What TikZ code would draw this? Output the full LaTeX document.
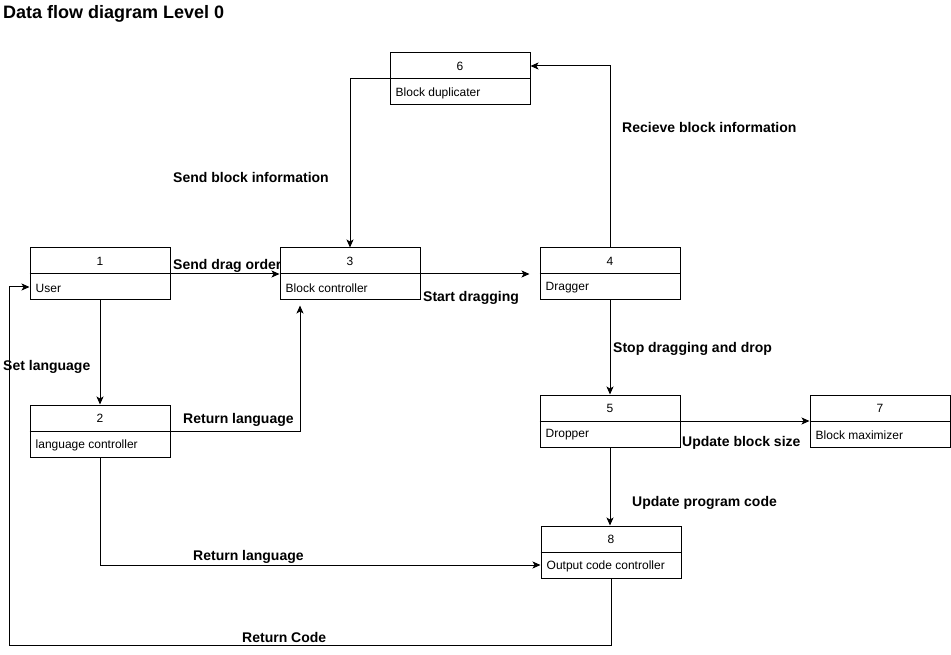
\documentclass[tikz,border=0pt]{standalone}
\usepackage{fontspec}
\setmainfont{Liberation Sans}
\usetikzlibrary{arrows.meta}
\usetikzlibrary{calc}
\usetikzlibrary{positioning}
\tikzstyle{block} = [draw, rectangle, line width=1pt, inner sep=0pt,
    minimum height=52pt, minimum width=140pt]
\tikzstyle{num} = [inner sep=0pt, minimum height=26pt,
    font=\fontsize{12}{14}\selectfont]
\tikzstyle{txt} = [inner sep=0pt, anchor=west,
    font=\fontsize{12}{14}\selectfont]
\tikzstyle{lbl} = [inner sep=0pt, anchor=west,
    font=\fontsize{14}{16}\selectfont\bfseries]
\tikzstyle{flow} = [->, line width=1pt]

\begin{document}
\begin{tikzpicture}[x=1pt, y=-1pt, >={Stealth[length=8pt,width=7pt,inset=2pt]}]
    \useasboundingbox (0,0) rectangle (951,655);
    \node [lbl, font=\fontsize{18}{20}\selectfont\bfseries] (title) at (3,14) {Data flow diagram Level 0};
    % We start by placing the blocks
    \node [block] (user) at (100,274) {};
    \node [block] (blockctl) at (350,274) {};
    \node [block] (dragger) at (610,274) {};
    \node [block] (dup) at (460,79) {};
    \node [block] (langctl) at (100,431) {};
    \node [block] (dropper) at (610,421) {};
    \node [block] (maxi) at (880,421) {};
    \node [block] (outctl) at (611,552) {};
    % number and name of each block
    \foreach \b/\n/\t in {user/1/User, blockctl/3/Block controller,
        dragger/4/Dragger, dup/6/Block duplicater,
        langctl/2/language controller, dropper/5/Dropper,
        maxi/7/Block maximizer, outctl/8/Output code controller} {
        \draw [line width=1pt] (\b.west) -- (\b.east);
        \node [num, below=1pt of \b.north] (\b-num) {\n};
        \node [txt] (\b-txt) at ([xshift=6pt,yshift=-14pt]\b.west) {\t};
    }
    % Once the nodes are placed, connecting them is easy.
    \draw [flow] (user) -- (blockctl);
    \draw [flow] (user) -- (langctl);
    \draw [flow, shorten >=5pt] (langctl.east) -| ([xshift=-50pt]blockctl.south);
    \draw [flow, shorten >=10pt] (blockctl) -- (dragger);
    \draw [flow] (dragger.north) |- ([yshift=13pt]dup.east);
    \draw [flow] (dup.west) -| (blockctl.north);
    \draw [flow] (dragger) -- (dropper);
    \draw [flow] (dropper) -- (maxi);
    \draw [flow] (dropper.south) -- (dropper.south |- outctl.north);
    \draw [flow] (langctl.south) |- ([yshift=-13pt]outctl.west);
    \draw [flow] (outctl.south) -- ++(0,67) -| ([xshift=-20pt,yshift=-13pt]user.west)
        -- ([yshift=-13pt]user.west);
    % labels of the flows
    \node [lbl] (l-drag) at (173,266) {Send drag order};
    \node [lbl] (l-setlang) at (3,367) {Set language};
    \node [lbl] (l-retlang) at (183,420) {Return language};
    \node [lbl] (l-start) at (423,298) {Start dragging};
    \node [lbl] (l-recv) at (622,127) {Recieve block information};
    \node [lbl] (l-send) at (173,177) {Send block information};
    \node [lbl] (l-stop) at (613,349) {Stop dragging and drop};
    \node [lbl] (l-size) at (682,443) {Update block size};
    \node [lbl] (l-code) at (632,503) {Update program code};
    \node [lbl] (l-retlang2) at (193,557) {Return language};
    \node [lbl] (l-retcode) at (242,637) {Return Code};
\end{tikzpicture}
\end{document}
